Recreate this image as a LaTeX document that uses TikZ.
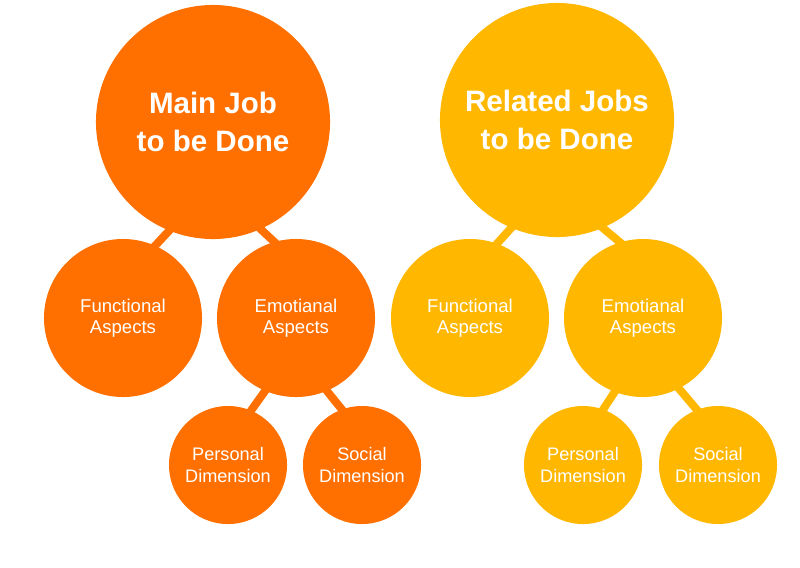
\documentclass[tikz,border=0pt]{standalone}
\usepackage{fontspec}
\setmainfont{Liberation Sans}
\usetikzlibrary{backgrounds}
\definecolor{jobOrange}{RGB}{255,112,0}
\definecolor{jobYellow}{RGB}{255,183,0}

\begin{document}
\begin{tikzpicture}[
    x=0.025cm, y=-0.025cm,
    job node/.style={circle, minimum size=5.85cm, inner sep=0pt, text=white, align=center, font=\fontsize{21}{27.5}\selectfont\bfseries},
    aspect node/.style={circle, minimum size=3.95cm, inner sep=0pt, text=white, align=center, font=\fontsize{13.2}{15.2}\selectfont},
    dimension node/.style={circle, minimum size=2.95cm, inner sep=0pt, text=white, align=center, font=\fontsize{12.9}{15}\selectfont},
    link/.style={line width=0.2cm, shorten <=-4pt, shorten >=-4pt}
]
  \useasboundingbox (0,0) rectangle (800,567);

  % main job tree
  \node[job node, fill=jobOrange] (main) at (213,122) {Main Job\\to be Done};
  \node[aspect node, fill=jobOrange] (mainfunc) at (123,318) {Functional\\Aspects};
  \node[aspect node, fill=jobOrange] (mainemo) at (296,318) {Emotianal\\Aspects};
  \node[dimension node, fill=jobOrange] (mainpers) at (228,465) {Personal\\Dimension};
  \node[dimension node, fill=jobOrange] (mainsoc) at (362,465) {Social\\Dimension};

  % related jobs tree
  \node[job node, fill=jobYellow] (related) at (557,120) {Related Jobs\\to be Done};
  \node[aspect node, fill=jobYellow] (relfunc) at (470,318) {Functional\\Aspects};
  \node[aspect node, fill=jobYellow] (relemo) at (643,318) {Emotianal\\Aspects};
  \node[dimension node, fill=jobYellow] (relpers) at (583,465) {Personal\\Dimension};
  \node[dimension node, fill=jobYellow] (relsoc) at (718,465) {Social\\Dimension};

  \begin{scope}[on background layer]
    \draw[link, jobOrange] (main.248) -- (mainfunc.66.5);
    \draw[link, jobOrange] (main.294) -- (mainemo.106);
    \draw[link, jobOrange] (mainemo.247.5) -- (mainpers.67);
    \draw[link, jobOrange] (mainemo.293.4) -- (mainsoc.110);
    \draw[link, jobYellow] (related.247.6) -- (relfunc.70);
    \draw[link, jobYellow] (related.293.6) -- (relemo.107.5);
    \draw[link, jobYellow] (relemo.249) -- (relpers.70);
    \draw[link, jobYellow] (relemo.297) -- (relsoc.111.7);
  \end{scope}
\end{tikzpicture}
\end{document}
